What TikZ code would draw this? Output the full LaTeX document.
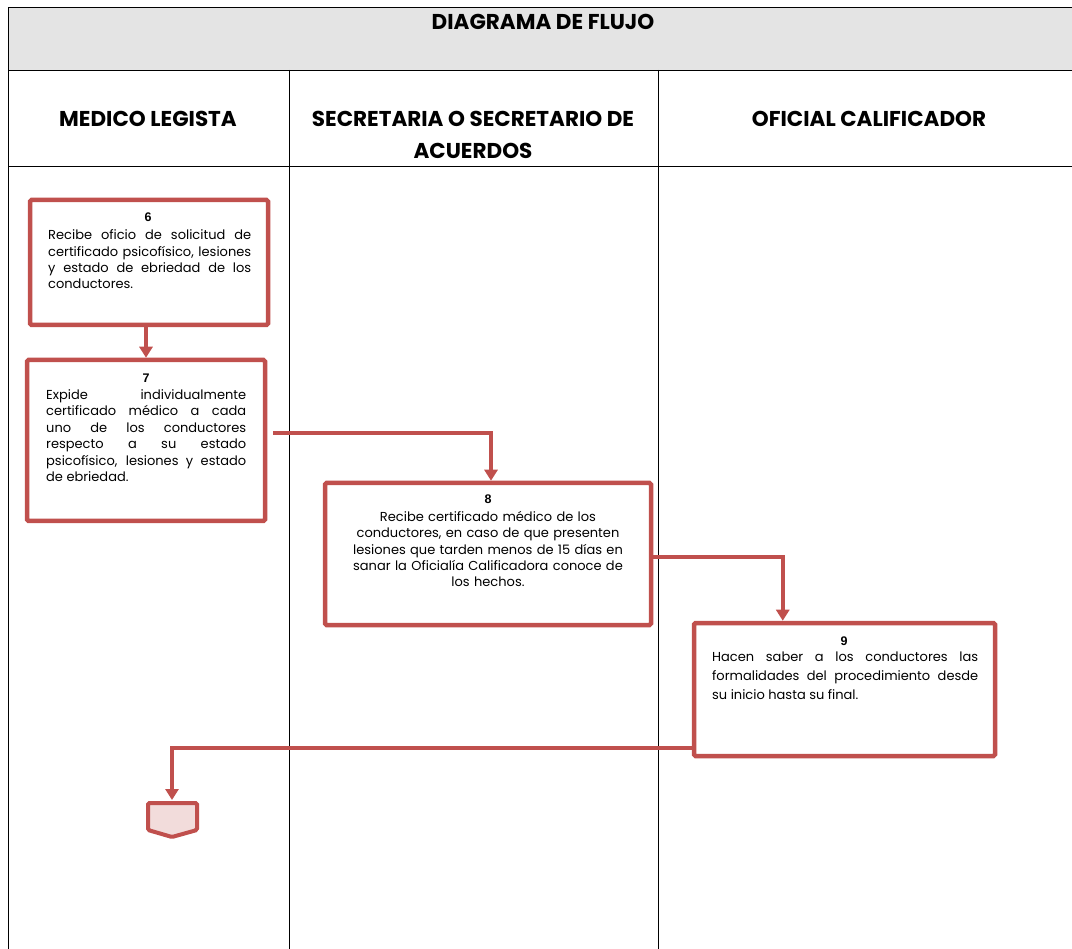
\documentclass[tikz,border=0pt]{standalone}
\usepackage{fontspec}
\setmainfont{Poppins}
\newfontfamily\numfont{Liberation Sans}
\usetikzlibrary{arrows.meta,calc,shadows}
\definecolor{boxred}{HTML}{C0504D}
\definecolor{endfill}{HTML}{F2DCDB}
\definecolor{headgray}{HTML}{E4E4E4}
\begin{document}
\begin{tikzpicture}[x=1pt,y=-1pt,
  grid/.style={draw=black,line width=0.9pt},
  headtext/.style={font=\fontsize{21.5}{32}\selectfont\bfseries,align=center,anchor=base},
  flowbox/.style={draw=boxred,line width=4.5pt,rounded corners=1.5pt,fill=white,inner sep=0pt,
    drop shadow={shadow xshift=1.2pt,shadow yshift=-1.2pt,opacity=0.25}},
  numtext/.style={font=\numfont\bfseries\fontsize{12.5}{14}\selectfont,anchor=base,inner sep=0pt},
  bodytext/.style={font=\fontsize{13}{16.4}\selectfont,inner sep=0pt,anchor=north west},
  flowline/.style={draw=boxred,line width=4pt,-{Triangle[length=11pt,width=13pt]}}
]
\useasboundingbox (0,0) rectangle (1072,949);
% table
\fill[headgray] (8,7) rectangle (1072,70);
\draw[grid] (1072,7) -- (8,7) -- (8,949);
\draw[grid] (8,70) -- (1072,70);
\draw[grid] (8,166) -- (1072,166);
\draw[grid] (289,70) -- (289,949);
\draw[grid] (658,70) -- (658,949);
\node[headtext] (title) at (543,30) {DIAGRAMA DE FLUJO};
\node[headtext] (h1) at (148,127) {MEDICO LEGISTA};
\node[headtext] (h2) at (473,159) {SECRETARIA O SECRETARIO DE\\ACUERDOS};
\node[headtext] (h3) at (869,127) {OFICIAL CALIFICADOR};
% boxes
\node[flowbox,minimum width=238pt,minimum height=125pt] (b6) at (149,262.5) {};
\node[flowbox,minimum width=238pt,minimum height=161pt] (b7) at (146,440.5) {};
\node[flowbox,minimum width=326pt,minimum height=142pt] (b8) at (488,554) {};
\node[flowbox,minimum width=301pt,minimum height=133pt] (b9) at (844.5,689.5) {};
% texts
\node[numtext] (n6) at (148,222) {6};
\node[bodytext,text width=203pt,align=justify] (t6) at (48,229.5) {Recibe oficio de solicitud de\linebreak certificado psicofísico, lesiones\linebreak y estado de ebriedad de los\linebreak conductores.};
\node[numtext] (n7) at (146,383) {7};
\node[bodytext,text width=200pt,align=justify] (t7) at (46,389.5) {Expide individualmente\linebreak certificado médico a cada\linebreak uno de los conductores\linebreak respecto a su estado\linebreak psicofísico, lesiones y estado\linebreak de ebriedad.};
\node[numtext] (n8) at (488,504) {8};
\node[bodytext,text width=300pt,align=center,anchor=north] (t8) at (488,511) {Recibe certificado médico de los\\conductores, en caso de que presenten\\lesiones que tarden menos de 15 días en\\sanar la Oficialía Calificadora conoce de\\los hechos.};
\node[numtext] (n9) at (844,645) {9};
\node[bodytext,text width=266pt,align=justify,font=\fontsize{13}{19}\selectfont] (t9) at (712,651.5) {Hacen saber a los conductores las\linebreak formalidades del procedimiento desde\linebreak su inicio hasta su final.};
% end connector shape
\coordinate (endtop) at (172,800);
\draw[draw=boxred,fill=endfill,line width=4pt,rounded corners=1.5pt]
  (148,803) -- (197,803) -- (197,830) -- (172,837) -- (148,830) -- cycle;
% connectors
\coordinate (c7) at (273,433);
\draw[flowline] (b6.south -| b7.north) -- (b7.north);
\draw[flowline] (c7) -| ($(b8.north)+(3,0)$);
\draw[flowline] ($(b8.east)+(0,3)$) -| ($(b9.north west)+(91,0)$);
\draw[flowline] ($(b9.south west)+(0,-10)$) -| (endtop);
\end{tikzpicture}
\end{document}
